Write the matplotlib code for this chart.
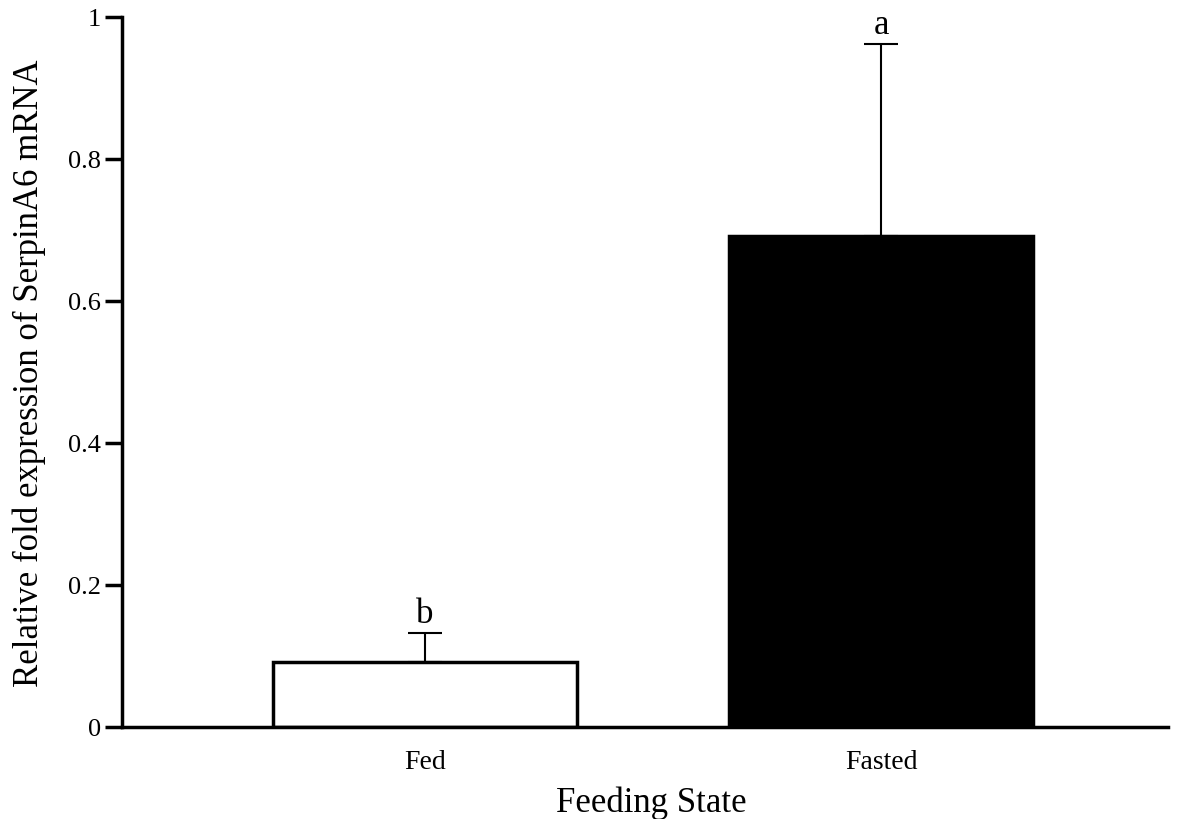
import matplotlib.pyplot as plt
import numpy as np

plt.rcParams["font.family"] = ["Liberation Serif", "DejaVu Serif"]

states = ["Fed", "Fasted"]
means = [0.092, 0.692]
errs = [0.040, 0.270]
colors = ["white", "black"]
letters = ["b", "a"]

fig = plt.figure(figsize=(11.82, 8.2), dpi=100)
ax = fig.add_axes([0.1032, 0.1122, 0.8850, 0.8659])

x = np.arange(len(states))
ax.bar(x, means, width=0.666, color=colors, edgecolor="black", linewidth=2.5, zorder=2)
ax.errorbar(x, means, yerr=[np.zeros(len(errs)), errs], fmt="none", ecolor="black",
            elinewidth=1.5, capsize=12, capthick=1.5, zorder=1)
for xi, m, e, l in zip(x, means, errs, letters):
    ax.text(xi, m + e + 0.004, l, ha="center", va="bottom", fontsize=25)

ax.set_xlim(-0.664, 1.628)
ax.set_ylim(0, 1)
ax.set_yticks([0, 0.2, 0.4, 0.6, 0.8, 1])
ax.set_yticklabels(["0", "0.2", "0.4", "0.6", "0.8", "1"])
ax.set_xticks(x)
ax.set_xticklabels(states)
ax.tick_params(axis="y", length=12, width=2.5, labelsize=19, pad=3)
ax.tick_params(axis="x", length=0, labelsize=20, pad=16)

for s in ["top", "right"]:
    ax.spines[s].set_visible(False)
for s in ["left", "bottom"]:
    ax.spines[s].set_linewidth(2.5)

ax.set_xlabel("Feeding State", fontsize=25, labelpad=10)
ax.xaxis.set_label_coords(0.506, -0.083)
ax.set_ylabel("Relative fold expression of SerpinA6 mRNA", fontsize=25, labelpad=16)

fig.savefig("out.png", dpi=100)
